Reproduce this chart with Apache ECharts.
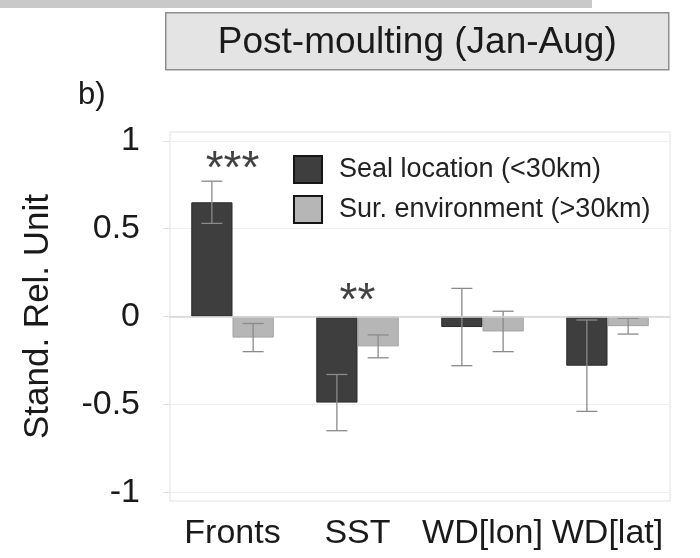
<!DOCTYPE html>
<html>
<head>
<meta charset="utf-8">
<script src="https://cdn.jsdelivr.net/npm/echarts@6/dist/echarts.min.js"></script>
<style>
  html, body { margin: 0; padding: 0; background: #fff; }
  #chart { width: 700px; height: 558px; }
</style>
</head>
<body>
<div id="chart"></div>
<script>
// Standardised relative effects, post-moulting period
const categories = ['Fronts', 'SST', 'WD[lon]', 'WD[lat]'];
const sealMean = [0.65, -0.49, -0.06, -0.28];
const sealErr  = [0.12, 0.16, 0.22, 0.26];
const surMean  = [-0.12, -0.17, -0.085, -0.055];
const surErr   = [0.08, 0.065, 0.115, 0.045];
const yTicks   = [-1, -0.5, 0, 0.5, 1];
const sigLabels = ['***', '**', '', ''];
const sigY      = [0.83, 0.08, null, null];

const seriesNames = ['Seal location (<30km)', 'Sur. environment (>30km)'];
const FONT = '"Liberation Sans", Arial, sans-serif';

const chart = echarts.init(document.getElementById('chart'), null, { renderer: 'canvas' });

// error bar rows: [category index, mean, half-width, side(-1 left / +1 right)]
const errRows = [];
categories.forEach((c, i) => {
  errRows.push([i, sealMean[i], sealErr[i], -1]);
  errRows.push([i, surMean[i], surErr[i], 1]);
});

const sigRows = [];
categories.forEach((c, i) => {
  if (sigLabels[i]) sigRows.push({ value: [i, sigY[i]], label: { formatter: sigLabels[i] } });
});

function renderErr(params, api) {
  const x = api.value(0);
  const m = api.value(1);
  const e = api.value(2);
  const side = api.value(3);
  const band = api.size([1, 0])[0];
  const off = band * 0.165 * side;
  const hi = api.coord([x, m + e]);
  const lo = api.coord([x, m - e]);
  const cx = hi[0] + off;
  const cap = 10.5;
  const style = { stroke: '#8a8a8a', lineWidth: 1.3, fill: null };
  return {
    type: 'group',
    children: [
      { type: 'line', shape: { x1: cx, y1: hi[1], x2: cx, y2: lo[1] }, style },
      { type: 'line', shape: { x1: cx - cap, y1: hi[1], x2: cx + cap, y2: hi[1] }, style },
      { type: 'line', shape: { x1: cx - cap, y1: lo[1], x2: cx + cap, y2: lo[1] }, style }
    ]
  };
}

const option = {
  animation: false,
  backgroundColor: '#ffffff',
  textStyle: { fontFamily: FONT },
  grid: {
    left: 170, right: 30, top: 132, bottom: 57,
    show: true, borderColor: '#e2e2e2', borderWidth: 1, backgroundColor: 'transparent'
  },
  legend: {
    orient: 'vertical',
    left: 293, top: 155,
    padding: 0,
    itemWidth: 28, itemHeight: 27, itemGap: 11,
    icon: 'rect',
    itemStyle: { borderColor: '#151515', borderWidth: 2 },
    textStyle: { fontSize: 27, color: '#222', fontFamily: FONT, padding: [9, 0, 0, 12] },
    data: seriesNames
  },
  xAxis: {
    type: 'category',
    data: categories,
    axisLine: { show: false },
    axisTick: { show: false },
    splitLine: { show: false },
    axisLabel: { interval: 0, fontSize: 34, color: '#1a1a1a', margin: 16, fontFamily: FONT }
  },
  yAxis: {
    type: 'value',
    min: -1.05, max: 1.05,
    name: 'Stand. Rel. Unit',
    nameLocation: 'middle',
    nameRotate: 90,
    nameGap: 114,
    nameTextStyle: { fontSize: 35, color: '#1a1a1a', fontFamily: FONT },
    axisLine: { show: false },
    axisTick: { show: true, length: 7, lineStyle: { color: '#e0e0e0' }, customValues: yTicks },
    axisLabel: {
      fontSize: 34, color: '#1a1a1a', margin: 30, fontFamily: FONT, align: 'right',
      customValues: yTicks,
      formatter: v => String(v)
    },
    splitLine: { show: true, lineStyle: { color: '#efefef', width: 1 } }
  },
  series: [
    {
      name: seriesNames[0],
      type: 'bar',
      data: sealMean,
      barGap: '0%',
      barCategoryGap: '34%',
      itemStyle: { color: '#3e3e3e', borderColor: '#2b2b2b', borderWidth: 1 },
      markLine: {
        silent: true, symbol: 'none', label: { show: false },
        lineStyle: { color: '#d6d6d6', type: 'solid', width: 1.5 },
        data: [{ yAxis: 0 }]
      },
      z: 2
    },
    {
      name: seriesNames[1],
      type: 'bar',
      data: surMean,
      barGap: '0%',
      barCategoryGap: '34%',
      itemStyle: { color: '#b6b6b6', borderColor: '#a2a2a2', borderWidth: 1 },
      z: 2
    },
    {
      type: 'custom',
      renderItem: renderErr,
      data: errRows,
      z: 3,
      silent: true
    },
    {
      type: 'scatter',
      data: sigRows,
      symbolSize: 0,
      silent: true,
      label: {
        show: true, position: 'inside',
        fontSize: 46, color: '#111', fontFamily: FONT
      },
      z: 4
    }
  ],
  graphic: [
    { type: 'rect', left: 0, top: 0, shape: { width: 592, height: 8 }, style: { fill: '#c9c9c9' }, silent: true },
    {
      type: 'group', left: 165, top: 12,
      children: [
        { type: 'rect', shape: { width: 503, height: 57 }, style: { fill: '#e4e4e4', stroke: '#8e8e8e', lineWidth: 1.5 } },
        { type: 'text', x: 251.5, y: 30, style: { text: 'Post-moulting (Jan-Aug)', fontSize: 37, fill: '#1a1a1a', fontFamily: FONT, textAlign: 'center', textVerticalAlign: 'middle' } }
      ]
    },
    { type: 'text', left: 78, top: 80, style: { text: 'b)', fontSize: 31, fill: '#1a1a1a', fontFamily: FONT } }
  ]
};

chart.setOption(option);
</script>
</body>
</html>
